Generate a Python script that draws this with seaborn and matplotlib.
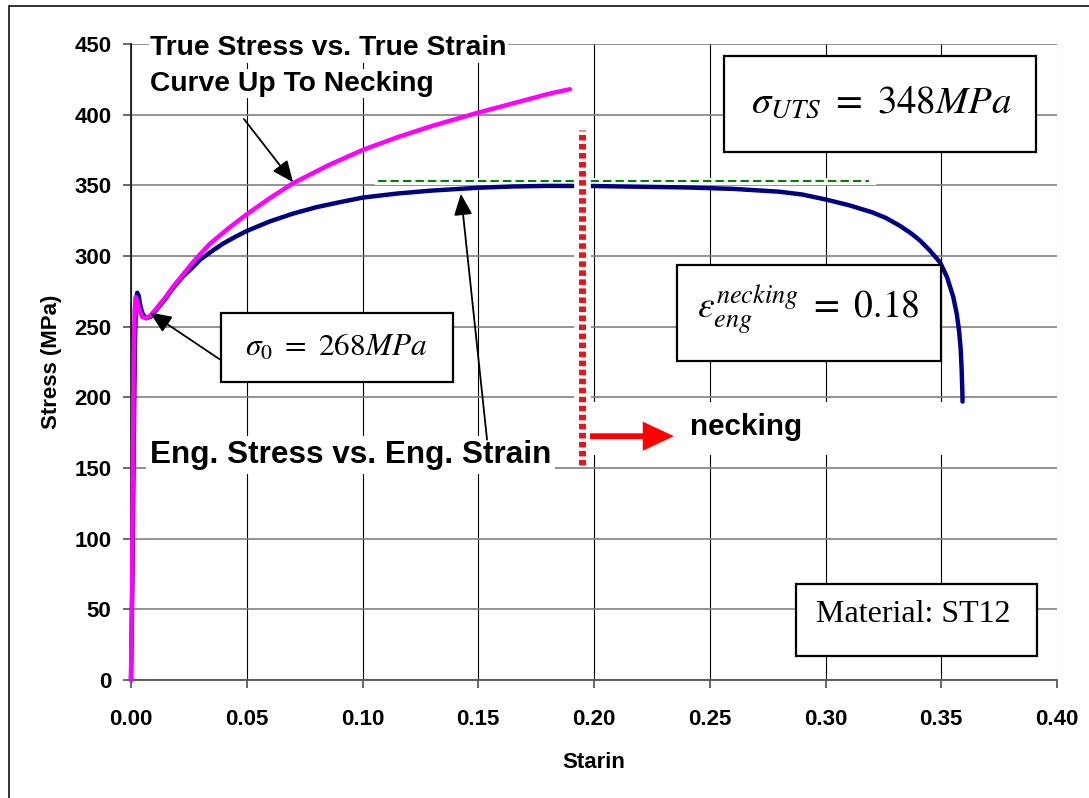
import numpy as np
import pandas as pd
import matplotlib
matplotlib.use("Agg")
import matplotlib.pyplot as plt
import seaborn as sns
from matplotlib.patches import Rectangle

# ---- data ----
eng_strain = [0, 0.0006, 0.0012, 0.0017, 0.0022, 0.0027, 0.0033, 0.004, 0.005, 0.0065,
              0.0085, 0.011, 0.015, 0.018, 0.0225, 0.026, 0.03, 0.035, 0.04, 0.045, 0.05,
              0.06, 0.07, 0.08, 0.09, 0.10, 0.115, 0.13, 0.15, 0.165, 0.18, 0.20, 0.22,
              0.24, 0.26, 0.28, 0.29, 0.30, 0.31, 0.32, 0.326, 0.332, 0.337, 0.3408,
              0.345, 0.3495, 0.3525, 0.3552, 0.3567, 0.3577, 0.3584, 0.3588, 0.3591, 0.3592]
eng_stress = [0, 70, 170, 240, 268, 274, 272, 265, 259, 256,
              257, 262, 270, 277, 285.6, 291, 297.6, 303.5, 309, 313.5, 317.7,
              324.5, 330, 334.5, 338, 341.3, 344.2, 346.3, 348.3, 349.2, 349.6, 349.5, 349,
              348.5, 347.5, 345.5, 343.5, 340, 336, 331, 327, 321.5, 316, 311,
              304, 295.5, 285, 271, 259, 247, 234, 220, 205, 197]

true_strain = [0, 0.0004, 0.0008, 0.0012, 0.0016, 0.002, 0.0026, 0.0035, 0.0048, 0.0065,
               0.0085, 0.011, 0.015, 0.018, 0.0225, 0.028, 0.034, 0.042, 0.05, 0.06,
               0.07, 0.085, 0.10, 0.115, 0.13, 0.149, 0.165, 0.181, 0.1896]
true_stress = [0, 60, 150, 230, 262, 271, 268, 262, 257, 256,
               258, 263, 271, 278, 287, 298, 308.5, 319.5, 329.5, 341,
               351.5, 364, 375, 384, 392, 401, 408, 415, 418]

x_ticks = [0.00, 0.05, 0.10, 0.15, 0.20, 0.25, 0.30, 0.35, 0.40]
y_ticks = [0, 50, 100, 150, 200, 250, 300, 350, 400, 450]

uts_value = 348
necking_strain = 0.195

sns.set_style("white")
plt.rcParams['font.family'] = ['Liberation Sans', 'DejaVu Sans']
plt.rcParams['mathtext.fontset'] = 'stix'
plt.rcParams['text.color'] = 'black'
plt.rcParams['axes.labelcolor'] = 'black'

W, H = 1089, 798
fig = plt.figure(figsize=(W / 100, H / 100), dpi=100)
ax = fig.add_axes([131 / W, 1 - 680 / H, (1057 - 131) / W, (680 - 44) / H])
ax.set_xlim(0, 0.40)
ax.set_ylim(0, 450)

df_eng = pd.DataFrame({"strain": eng_strain, "stress": eng_stress})
df_true = pd.DataFrame({"strain": true_strain, "stress": true_stress})

sns.lineplot(data=df_eng, x="strain", y="stress", sort=False, estimator=None,
             color="#000080", lw=3.2, ax=ax, zorder=4, clip_on=False)
sns.lineplot(data=df_true, x="strain", y="stress", sort=False, estimator=None,
             color="#ff00ff", lw=3.2, ax=ax, zorder=5, clip_on=False)

# grid / spines / ticks
ax.set_xticks(x_ticks)
ax.set_yticks(y_ticks)
ax.set_xticklabels([f"{v:.2f}" for v in x_ticks])
ax.set_yticklabels([str(v) for v in y_ticks])
ax.grid(axis='y', color='#808080', lw=1.2, zorder=0)
ax.grid(axis='x', color='black', lw=0.8, zorder=0)
ax.get_xgridlines()[-1].set_color('#a8a8a8')
ax.set_axisbelow(True)
for s in ['top', 'right']:
    ax.spines[s].set_visible(False)
ax.spines['left'].set_color('#202020')
ax.spines['left'].set_linewidth(1.3)
ax.spines['bottom'].set_color('#555555')
ax.spines['bottom'].set_linewidth(1.3)
ax.tick_params(axis='y', direction='out', length=6, width=1.1, color='#404040',
               pad=8, labelsize=16, left=True, labelcolor='black')
ax.tick_params(axis='x', direction='out', length=6, width=1.1, color='#404040',
               pad=15, labelsize=16, bottom=True, labelcolor='black')
for lab in ax.get_xticklabels() + ax.get_yticklabels():
    lab.set_fontweight('bold')
ax.set_xlabel("Starin", fontsize=16, fontweight='bold', labelpad=16)
ax.set_ylabel("Stress (MPa)", fontsize=16, fontweight='bold', labelpad=9)

# white patch behind "necking"
ax.add_patch(Rectangle((0.198, 159), 0.162, 38, fc='white', ec='none', zorder=2))

# green dashed UTS line
ax.plot([0.105, 0.322], [352.9, 352.9], color='white', lw=5, zorder=3, solid_capstyle='butt')
ax.plot([0.1067, 0.319], [352.9, 352.9], color='#008000', lw=1.5,
        linestyle=(0, (4, 2)), zorder=3.5)

# red dotted necking line with white halo
ax.plot([necking_strain, necking_strain], [152, 389], color='white', lw=12,
        zorder=6, solid_capstyle='butt')
ax.plot([necking_strain, necking_strain], [152, 389], color='#e8141c', lw=5,
        linestyle=(0, (0.8, 0.5)), dash_capstyle='butt', zorder=7)

# red arrow
ax.annotate("", xy=(0.2345, 172.5), xytext=(0.1983, 172.5),
            arrowprops=dict(arrowstyle="simple,head_length=1.6,head_width=1.5,tail_width=0.3",
                            mutation_scale=14, fc='#ff0000', ec='none',
                            shrinkA=0, shrinkB=0), zorder=8)

# text annotations
bb = dict(fc='white', ec='none', pad=1)
ax.text(0.0082, 442, "True Stress vs. True Strain", fontsize=20.3, fontweight='bold',
        ha='left', va='baseline', bbox=bb, zorder=8)
ax.text(0.0082, 417, "Curve Up To Necking", fontsize=20.3, fontweight='bold',
        ha='left', va='baseline', bbox=bb, zorder=8)
ax.text(0.0082, 153.5, "Eng. Stress vs. Eng. Strain", fontsize=22.7, fontweight='bold',
        ha='left', va='baseline', bbox=dict(fc='white', ec='none', pad=3), zorder=8)
ax.text(0.2415, 173.3, "necking", fontsize=21.3, fontweight='bold',
        ha='left', va='baseline', zorder=8)

# black arrows
ap = dict(arrowstyle='-|>,head_length=0.65,head_width=0.28', color='black', lw=1.3,
          shrinkA=0, shrinkB=0, mutation_scale=20)
ax.annotate("", xy=(0.0700, 352.2), xytext=(0.0488, 396.9), arrowprops=ap, zorder=9)
ax.annotate("", xy=(0.1425, 344.0), xytext=(0.1538, 170.0), arrowprops=ap, zorder=9)
ax.annotate("", xy=(0.0082, 260.0), xytext=(0.0384, 226.8), arrowprops=ap, zorder=9)


def pbox(x0, y0, x1, y1):
    r = Rectangle((x0 / W, 1 - y1 / H), (x1 - x0) / W, (y1 - y0) / H,
                  transform=fig.transFigure, fc='white', ec='black', lw=1.6,
                  zorder=10, clip_on=False)
    ax.add_patch(r)


def ptext(x, y, s, **kw):
    ax.text(x / W, 1 - y / H, s, transform=fig.transFigure, ha='center', va='center',
            zorder=11, color='black', **kw)


pbox(724, 56, 1036, 152)
ptext(881, 103, r'$\sigma_{UTS}\ =\ %dMPa$' % uts_value, fontsize=28)
pbox(677, 265, 941, 361)
ptext(808, 310, r'$\varepsilon_{eng}^{necking}\ =\ 0.18$', fontsize=27)
pbox(221, 313, 453, 382)
ptext(336, 348, r'$\sigma_0\ =\ 268MPa$', fontsize=22.5)
pbox(796, 584, 1037, 656)
ptext(913, 614, "Material: ST12", fontsize=23, family=['Liberation Serif', 'DejaVu Serif'])

# outer figure border (left and top visible)
fig.add_artist(Rectangle((9 / W, -0.5), 2, 1.5 - 5.5 / H, transform=fig.transFigure,
                         fill=False, ec='#222222', lw=1.3, clip_on=False))

fig.savefig("out.png", dpi=100)
